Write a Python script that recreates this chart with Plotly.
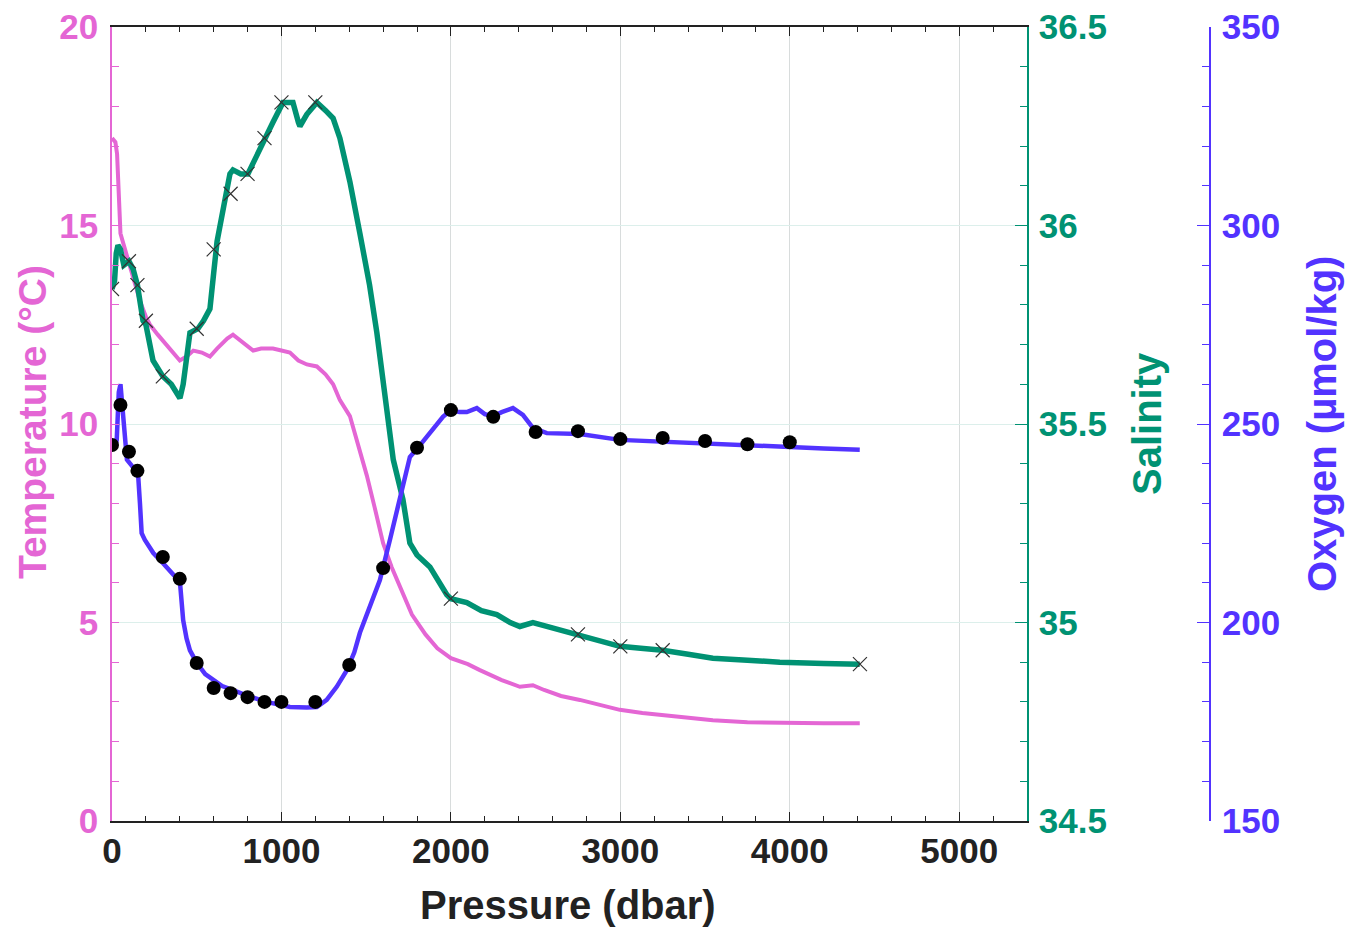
import plotly.graph_objects as go

# ---------------- data ----------------
temp_p = [0, 20, 30, 40, 50, 70, 106, 140, 165, 200, 224, 270, 322, 360, 400, 440, 480, 530, 578,
          620, 680, 714, 760, 800, 833, 880, 950, 1000, 1050, 1100, 1150, 1209, 1260, 1305, 1345,
          1404, 1450, 1504, 1550, 1600, 1650, 1700, 1770, 1850, 1920, 2000, 2100, 2171, 2300, 2407,
          2440, 2484, 2550, 2650, 2761, 2880, 2997, 3130, 3251, 3400, 3546, 3750, 3941, 4200, 4413]
temp_v = [17.2, 17.1, 16.8, 15.5, 14.8, 14.5, 13.95, 13.5, 13.1, 12.7, 12.5, 12.25, 12.0, 11.8, 11.6,
          11.7, 11.85, 11.8, 11.7, 11.9, 12.15, 12.25, 12.1, 11.95, 11.85, 11.9, 11.9, 11.85, 11.8,
          11.6, 11.5, 11.45, 11.25, 11.0, 10.6, 10.2, 9.5, 8.7, 7.9, 7.0, 6.4, 5.9, 5.2, 4.7, 4.35,
          4.1, 3.95, 3.8, 3.55, 3.38, 3.4, 3.42, 3.3, 3.15, 3.05, 2.92, 2.8, 2.72, 2.67, 2.6, 2.54,
          2.49, 2.47, 2.46, 2.46]

sal_p = [0, 15, 25, 35, 50, 70, 100, 125, 150, 183, 200, 242, 300, 350, 401, 420, 460, 507, 540, 578,
         600, 620, 660, 696, 714, 760, 802, 850, 903, 950, 1009, 1068, 1100, 1109, 1150, 1209, 1260,
         1305, 1345, 1380, 1404, 1463, 1520, 1563, 1611, 1660, 1717, 1758, 1800, 1876, 1976, 2000,
         2094, 2180, 2271, 2350, 2407, 2484, 2566, 2650, 2750, 2870, 2997, 3120, 3249, 3400, 3546,
         3750, 3941, 4200, 4413]
sal_v = [35.84, 35.86, 35.93, 35.95, 35.94, 35.90, 35.91, 35.89, 35.85, 35.76, 35.75, 35.66, 35.62,
         35.60, 35.565, 35.60, 35.73, 35.74, 35.76, 35.79, 35.88, 35.96, 36.05, 36.13, 36.14, 36.13,
         36.13, 36.17, 36.22, 36.26, 36.31, 36.31, 36.26, 36.25, 36.28, 36.31, 36.29, 36.27, 36.22,
         36.16, 36.11, 35.98, 35.85, 35.73, 35.56, 35.41, 35.31, 35.20, 35.17, 35.14, 35.07, 35.06,
         35.05, 35.03, 35.02, 35.00, 34.99, 35.00, 34.99, 34.98, 34.97, 34.955, 34.94, 34.935, 34.93,
         34.92, 34.91, 34.905, 34.90, 34.897, 34.895]

sal_bottle_p = [0, 100, 150, 200, 300, 500, 600, 700, 800, 900, 1000, 1200, 2000, 2750, 3000, 3250, 4414]
sal_bottle_v = [35.84, 35.91, 35.85, 35.76, 35.62, 35.74, 35.94, 36.08, 36.13, 36.22, 36.31, 36.31,
                35.06, 34.97, 34.94, 34.93, 34.895]

oxy_p = [0, 20, 28, 40, 50, 60, 75, 88, 126, 155, 165, 175, 194, 244, 300, 322, 352, 401, 420, 440,
         460, 501, 550, 596, 650, 714, 800, 912, 1000, 1050, 1150, 1209, 1267, 1326, 1386, 1430, 1463,
         1522, 1581, 1640, 1699, 1758, 1805, 1876, 1953, 2000, 2050, 2094, 2153, 2200, 2250, 2300,
         2366, 2425, 2484, 2566, 2761, 2997, 3250, 3546, 3800, 4000, 4200, 4413]
oxy_v = [244, 244.5, 246, 258, 260, 255, 245, 241, 239, 236.6, 230, 222.5, 220.8, 217.5, 215, 214,
         212.5, 210.2, 200.6, 196, 193, 189.8, 187, 185.5, 184, 183, 181.5, 180, 179.2, 178.7, 178.6,
         178.7, 180.5, 183.8, 188, 192.5, 197.4, 204, 210.7, 220.8, 230.8, 241.7, 244, 247.7, 251.8,
         253.5, 253, 253, 254, 252.5, 252, 253, 254, 252.3, 249, 247.7, 247.5, 246, 245.6, 245.2,
         244.6, 244.2, 243.8, 243.5]

oxy_bottle_p = [0, 50, 100, 150, 300, 400, 500, 600, 700, 800, 900, 1000, 1200, 1400, 1600, 1800,
                2000, 2250, 2500, 2750, 3000, 3250, 3500, 3750, 4000]
oxy_bottle_v = [244.7, 254.8, 243, 238.2, 216.5, 211, 189.8, 183.5, 182.2, 181.2, 180, 180, 180,
                189.3, 213.7, 244, 253.5, 251.8, 248, 248.2, 246.2, 246.5, 245.7, 244.9, 245.4]

# ---------------- styling ----------------
PINK = "#E466D4"
GREEN = "#009273"
BLUE = "#5233FF"
FONT = "Liberation Sans, Arial, sans-serif"

PAGE_OFF = 8            # default body margin of the html page
W, H = 1354 - PAGE_OFF, 928 - PAGE_OFF
# target plot box in page pixels
PLOT_L, PLOT_T, PLOT_B = 112, 27, 821
SAL_AX_X, OXY_AX_X = 1027, 1210
L = PLOT_L - PAGE_OFF
T = PLOT_T - PAGE_OFF
R = W - (OXY_AX_X - PAGE_OFF)
B = H - (PLOT_B - PAGE_OFF)
plot_w = W - L - R
plot_h = H - T - B
xdom_end = (SAL_AX_X - PLOT_L) / plot_w


def px2paper_x(px):
    return (px - PLOT_L) / plot_w


def py2paper_y(py):
    return (PLOT_B - py) / plot_h


fig = go.Figure()

fig.add_trace(go.Scatter(x=temp_p, y=temp_v, mode="lines", line=dict(color=PINK, width=4),
                         name="Temperature", yaxis="y"))
fig.add_trace(go.Scatter(x=sal_p, y=sal_v, mode="lines", line=dict(color=GREEN, width=5.5),
                         name="Salinity", yaxis="y2"))
fig.add_trace(go.Scatter(x=sal_bottle_p, y=sal_bottle_v, mode="markers",
                         marker=dict(symbol="x-thin", size=14, line=dict(color="#333333", width=1.2)),
                         name="Salinity bottles", yaxis="y2"))
fig.add_trace(go.Scatter(x=oxy_p, y=oxy_v, mode="lines", line=dict(color=BLUE, width=4.5),
                         name="Oxygen", yaxis="y3"))
fig.add_trace(go.Scatter(x=oxy_bottle_p, y=oxy_bottle_v, mode="markers",
                         marker=dict(symbol="circle", size=14, color="black"),
                         name="Oxygen bottles", yaxis="y3"))

tick_font = dict(family=FONT, size=35, weight="bold")

fig.update_layout(
    width=W, height=H,
    margin=dict(l=L, r=R, t=T, b=B, autoexpand=False),
    paper_bgcolor="white", plot_bgcolor="white",
    showlegend=False,
    xaxis=dict(
        domain=[0, xdom_end], range=[0, 5400], dtick=1000, tick0=0, automargin=False,
        ticks="inside", ticklen=9, tickcolor="#222", tickwidth=1.2,
        showline=True, linecolor="#222", linewidth=1.5, mirror="ticks",
        showgrid=True, gridcolor="#d8dcdc", gridwidth=1, zeroline=False,
        minor=dict(dtick=200, ticks="inside", ticklen=5, tickcolor="#222", showgrid=False),
        tickfont=dict(color="#222", **tick_font), ticklabelstandoff=-2,
        ticklabeloverflow="allow",
    ),
    yaxis=dict(
        range=[0, 20], dtick=5, tick0=0, automargin=False,
        ticks="inside", ticklen=7, tickcolor=PINK, tickwidth=1,
        showline=True, linecolor=PINK, linewidth=1.5,
        showgrid=True, gridcolor="#dcefeb", gridwidth=1, zeroline=False,
        minor=dict(dtick=1, ticks="inside", ticklen=7, tickcolor=PINK, showgrid=False),
        tickfont=dict(color=PINK, **tick_font), ticklabelstandoff=5,
        ticklabeloverflow="allow",
    ),
    yaxis2=dict(
        overlaying="y", side="right", anchor="x", automargin=False,
        range=[34.5, 36.5], dtick=0.5, tick0=34.5,
        ticks="inside", ticklen=12, tickcolor=GREEN, tickwidth=1,
        showline=True, linecolor=GREEN, linewidth=1.5,
        showgrid=False, zeroline=False,
        minor=dict(dtick=0.1, ticks="inside", ticklen=7, tickcolor=GREEN, showgrid=False),
        tickfont=dict(color=GREEN, **tick_font), ticklabelstandoff=3,
        ticklabeloverflow="allow",
    ),
    yaxis3=dict(
        overlaying="y", side="right", anchor="free", position=1.0, automargin=False,
        range=[150, 350], dtick=50, tick0=150,
        ticks="inside", ticklen=12, tickcolor=BLUE, tickwidth=1,
        showline=True, linecolor=BLUE, linewidth=1.5,
        showgrid=False, zeroline=False,
        minor=dict(dtick=10, ticks="inside", ticklen=7, tickcolor=BLUE, showgrid=False),
        tickfont=dict(color=BLUE, **tick_font), ticklabelstandoff=4,
        ticklabeloverflow="allow",
    ),
)

title_font = dict(family=FONT, size=40, weight="bold")
fig.add_annotation(text="Temperature (°C)", xref="paper", yref="paper",
                   x=px2paper_x(32), y=py2paper_y(422), textangle=-90, showarrow=False,
                   xanchor="center", yanchor="middle",
                   font=dict(color=PINK, family=FONT, size=39, weight="bold"))
fig.add_annotation(text="Salinity", xref="paper", yref="paper",
                   x=px2paper_x(1147), y=py2paper_y(424), textangle=-90, showarrow=False,
                   xanchor="center", yanchor="middle", font=dict(color=GREEN, **title_font))
fig.add_annotation(text="Oxygen (µmol/kg)", xref="paper", yref="paper",
                   x=px2paper_x(1322), y=py2paper_y(424), textangle=-90, showarrow=False,
                   xanchor="center", yanchor="middle", font=dict(color=BLUE, **title_font))
fig.add_annotation(text="Pressure (dbar)", xref="paper", yref="paper",
                   x=px2paper_x(568), y=py2paper_y(905), showarrow=False,
                   xanchor="center", yanchor="middle", font=dict(color="#222", **title_font))

fig.write_html("out.html")
